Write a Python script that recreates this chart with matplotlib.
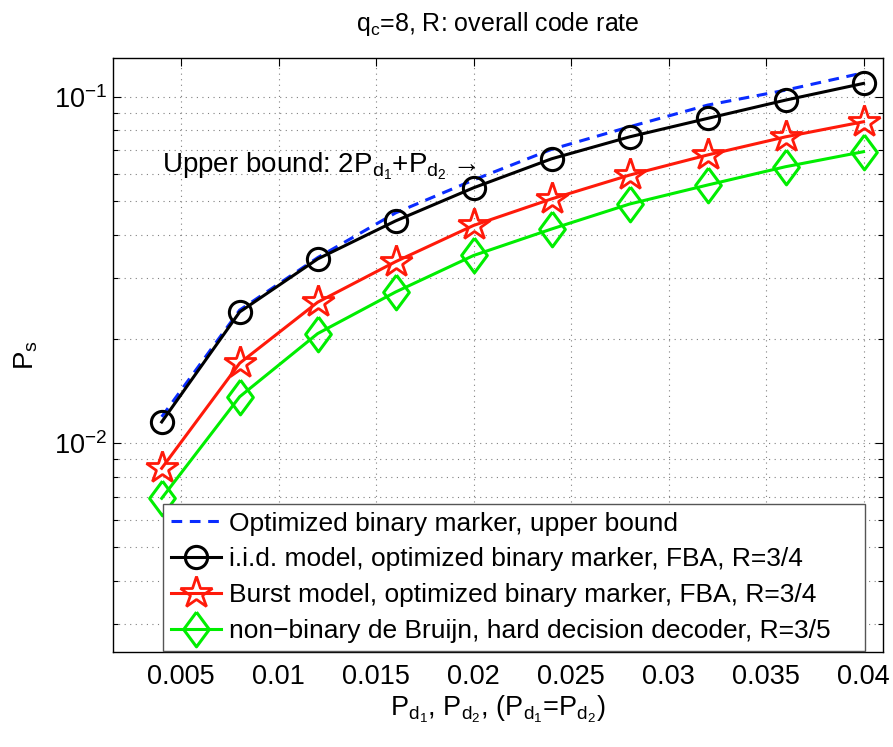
import matplotlib
matplotlib.use('Agg')
import matplotlib.pyplot as plt
from matplotlib.ticker import LogLocator, FixedLocator
import numpy as np

plt.rcParams['font.family'] = ['Liberation Sans', 'DejaVu Sans']
plt.rcParams['mathtext.default'] = 'regular'

# Deletion probability (P_d1 = P_d2)
pd = [0.004, 0.008, 0.012, 0.016, 0.020, 0.024, 0.028, 0.032, 0.036, 0.040]
# Symbol error rate for each scheme
ps_bound = [0.0119, 0.0242, 0.0343, 0.0462, 0.0575, 0.0705, 0.0819, 0.0946, 0.1045, 0.1173]
ps_iid = [0.0115, 0.0239, 0.0340, 0.0438, 0.0546, 0.0662, 0.0766, 0.0866, 0.0978, 0.1093]
ps_burst = [0.00845, 0.0170, 0.0255, 0.0334, 0.0425, 0.0507, 0.0594, 0.0679, 0.0766, 0.0847]
ps_debruijn = [0.00692, 0.0136, 0.0207, 0.0273, 0.0348, 0.0415, 0.0490, 0.0556, 0.0628, 0.0694]
xticks = [0.005, 0.01, 0.015, 0.02, 0.025, 0.03, 0.035, 0.04]
labels = ['Optimized binary marker, upper bound',
          'i.i.d. model, optimized binary marker, FBA, R=3/4',
          'Burst model, optimized binary marker, FBA, R=3/4',
          'non\u2212binary de Bruijn, hard decision decoder, R=3/5']

# tall diamond like MATLAB's 'd'
diamond = [(0, 1), (0.74, 0), (0, -1), (-0.74, 0), (0, 1)]

fig = plt.figure(figsize=(8.93, 7.47), dpi=100)
ax = fig.add_axes([0.1265, 0.1272, 0.8623, 0.7945])

lw = 2.2
ax.plot(pd, ps_bound, '--', color='#0a2cff', lw=lw, dashes=(3.5, 2.5), label=labels[0])
ax.plot(pd, ps_iid, '-', color='black', lw=lw, marker='o', ms=16, mfc='none',
        mew=2.2, label=labels[1])
ax.plot(pd, ps_burst, '-', color='#ff1a0a', lw=lw, marker='*', ms=24, mfc='none',
        mew=2.0, label=labels[2])
ax.plot(pd, ps_debruijn, '-', color='#00ee00', lw=lw, marker=diamond, ms=25,
        mfc='none', mew=2.2, label=labels[3])

ax.set_yscale('log')
ax.set_xlim(0.0015, 0.041)
ax.set_ylim(0.00249, 0.129)
ax.xaxis.set_major_locator(FixedLocator(xticks))
ax.set_xticklabels([('%g' % t) for t in xticks])
ax.yaxis.set_major_locator(LogLocator(base=10, numticks=10))
ax.yaxis.set_minor_locator(LogLocator(base=10, subs=np.arange(2, 10), numticks=10))

ax.tick_params(axis='both', which='both', direction='in', top=True, right=True,
               labelsize=19.5, width=0.8)
ax.tick_params(axis='both', which='major', length=6)
ax.tick_params(axis='y', which='minor', length=3.5, labelleft=False)
ax.tick_params(axis='x', which='major', pad=9)
ax.tick_params(axis='y', which='major', pad=4)

# MATLAB-like dotted grid, minor lines on the log axis
ax.grid(True, which='major', axis='both', ls=(0, (1, 4)), color='#808080', lw=0.8)
ax.grid(True, which='minor', axis='y', ls=(0, (1, 4)), color='#808080', lw=0.8)
for s in ax.spines.values():
    s.set_linewidth(1.0)

ax.set_title(r'q$_c$=8, R: overall code rate', fontsize=18, pad=20)
ax.set_xlabel(r'P$_{d_1}$, P$_{d_2}$, (P$_{d_1}$=P$_{d_2}$)', fontsize=19.5, labelpad=2)
ax.set_ylabel(r'P$_s$', fontsize=20, labelpad=10)

ax.text(0.00404, 0.0605, r'Upper bound: 2P$_{d_1}$+P$_{d_2}$$\rightarrow$',
        fontsize=20, va='baseline', ha='left')

leg = ax.legend(loc='lower left', bbox_to_anchor=(0.065, 0.0015, 0.912, 0.26),
                mode='expand', borderaxespad=0, fontsize=19, handlelength=1.9,
                handletextpad=0.3, labelspacing=0.45, borderpad=0.3,
                fancybox=False, framealpha=1, edgecolor='#555555')
leg.get_frame().set_linewidth(1.0)

fig.savefig('out.png', dpi=100)
